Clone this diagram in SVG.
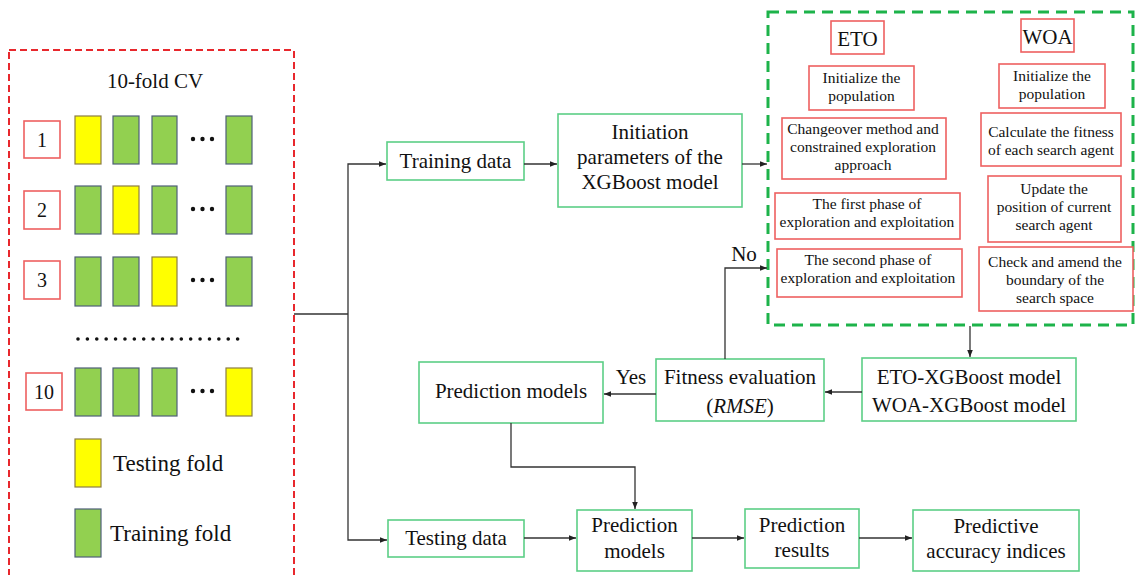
<svg xmlns="http://www.w3.org/2000/svg" width="1135" height="575" viewBox="0 0 1135 575" font-family="'Liberation Serif', 'DejaVu Serif', serif">
  <defs>
    <marker id="arr" viewBox="0 0 10 10" refX="10" refY="5" markerWidth="7" markerHeight="7" markerUnits="userSpaceOnUse" orient="auto">
      <path d="M0,1 L10,5 L0,9 z" fill="#222"/>
    </marker>
    <style>
      .t21 { font-size: 21px; text-anchor: middle; fill: #111; }
      .t15 { font-size: 15.5px; text-anchor: middle; fill: #111; }
      .lg { font-size: 23px; fill: #111; }
      .gbox { fill: #fff; stroke: #5ccf86; stroke-width: 1.6; }
      .rbox { fill: #fff; stroke: #ee6060; stroke-width: 1.6; }
      .yel { fill: #ffff00; stroke: #8c7d45; stroke-width: 1.2; }
      .grn { fill: #92d050; stroke: #4f5f78; stroke-width: 1.2; }
      .wire { fill: none; stroke: #333; stroke-width: 1.3; }
      .dot { fill: #111; }
    </style>
  </defs>
  <rect width="1135" height="575" fill="#fff"/>

  <!-- cross-validation panel -->
  <g id="cv-panel">
    <rect x="9" y="50" width="285" height="528" fill="none" stroke="#e8282d" stroke-width="2" stroke-dasharray="7 4"/>
    <text x="155" y="88" class="t21">10-fold CV</text>

    <rect x="24" y="121" width="36" height="37" class="rbox" stroke-width="1.3"/>
    <text x="42" y="147" class="t21" style="font-size:20px">1</text>
    <rect x="75" y="116" width="26" height="48" class="yel"/>
    <rect x="113" y="116" width="26" height="48" class="grn"/>
    <rect x="152" y="116" width="25" height="48" class="grn"/>
    <circle cx="193" cy="139" r="2.2" class="dot"/><circle cx="202.5" cy="139" r="2.2" class="dot"/><circle cx="212" cy="139" r="2.2" class="dot"/>
    <rect x="226" y="116" width="26" height="48" class="grn"/>

    <rect x="24" y="191" width="36" height="38" class="rbox" stroke-width="1.3"/>
    <text x="42" y="217" class="t21" style="font-size:20px">2</text>
    <rect x="75" y="186" width="26" height="48" class="grn" stroke="#8c7d45"/>
    <rect x="113" y="186" width="26" height="48" class="yel"/>
    <rect x="152" y="186" width="25" height="48" class="grn"/>
    <circle cx="193" cy="209" r="2.2" class="dot"/><circle cx="202.5" cy="209" r="2.2" class="dot"/><circle cx="212" cy="209" r="2.2" class="dot"/>
    <rect x="226" y="186" width="26" height="48" class="grn"/>

    <rect x="24" y="261" width="36" height="38" class="rbox" stroke-width="1.3"/>
    <text x="42" y="287" class="t21" style="font-size:20px">3</text>
    <rect x="75" y="257" width="26" height="49" class="grn" stroke="#8c7d45"/>
    <rect x="113" y="257" width="26" height="49" class="grn"/>
    <rect x="152" y="257" width="25" height="49" class="yel"/>
    <circle cx="193" cy="280" r="2.2" class="dot"/><circle cx="202.5" cy="280" r="2.2" class="dot"/><circle cx="212" cy="280" r="2.2" class="dot"/>
    <rect x="226" y="257" width="26" height="49" class="grn"/>

    <line x1="78" y1="339" x2="247" y2="339" stroke="#111" stroke-width="3.6" stroke-linecap="round" stroke-dasharray="0 9.39"/>

    <rect x="26" y="373" width="36" height="37" class="rbox" stroke-width="1.3"/>
    <text x="44" y="399" class="t21" style="font-size:20px">10</text>
    <rect x="75" y="368" width="26" height="48" class="grn" stroke="#8c7d45"/>
    <rect x="113" y="368" width="26" height="48" class="grn"/>
    <rect x="152" y="368" width="25" height="48" class="grn"/>
    <circle cx="193" cy="391" r="2.2" class="dot"/><circle cx="202.5" cy="391" r="2.2" class="dot"/><circle cx="212" cy="391" r="2.2" class="dot"/>
    <rect x="226" y="368" width="26" height="48" class="yel"/>

    <rect x="75" y="439" width="26" height="48" class="yel"/>
    <text x="113" y="471" class="lg">Testing fold</text>
    <rect x="75" y="509" width="26" height="48" class="grn" stroke="#8c7d45"/>
    <text x="110" y="541" class="lg">Training fold</text>
  </g>

  <!-- optimizer panel -->
  <g id="optimizer-panel">
    <rect x="768" y="12" width="365" height="313" fill="none" stroke="#1db34a" stroke-width="3" stroke-dasharray="11 7"/>
  </g>
  <g id="eto-title">
    <rect x="831" y="21" width="53" height="33" class="rbox"/>
    <text x="857.5" y="46" class="t21">ETO</text>
  </g>
  <g id="woa-title">
    <rect x="1021" y="19" width="53" height="33" class="rbox"/>
    <text x="1047.5" y="44" class="t21">WOA</text>
  </g>
  <g id="eto-init">
    <rect x="809" y="66" width="105" height="44" class="rbox"/>
    <text x="861.5" y="83" class="t15">Initialize the</text>
    <text x="861.5" y="101" class="t15">population</text>
  </g>
  <g id="eto-changeover">
    <rect x="782" y="118" width="164" height="61" class="rbox"/>
    <text x="863" y="134" class="t15">Changeover method and</text>
    <text x="863" y="152" class="t15">constrained exploration</text>
    <text x="863" y="170" class="t15">approach</text>
  </g>
  <g id="eto-phase1">
    <rect x="775" y="193" width="185" height="46" class="rbox"/>
    <text x="867" y="209" class="t15">The first phase of</text>
    <text x="867" y="227" class="t15">exploration and exploitation</text>
  </g>
  <g id="eto-phase2">
    <rect x="777" y="249" width="185" height="48" class="rbox"/>
    <text x="868" y="265" class="t15">The second phase of</text>
    <text x="868" y="283" class="t15">exploration and exploitation</text>
  </g>
  <g id="woa-init">
    <rect x="999" y="64" width="106" height="44" class="rbox"/>
    <text x="1052" y="81" class="t15">Initialize the</text>
    <text x="1052" y="99" class="t15">population</text>
  </g>
  <g id="woa-fitness">
    <rect x="981" y="113" width="140" height="53" class="rbox"/>
    <text x="1051" y="137" class="t15">Calculate the fitness</text>
    <text x="1051" y="155" class="t15">of each search agent</text>
  </g>
  <g id="woa-update">
    <rect x="988" y="176" width="133" height="66" class="rbox"/>
    <text x="1054" y="194" class="t15">Update the</text>
    <text x="1054" y="212" class="t15">position of current</text>
    <text x="1054" y="230" class="t15">search agent</text>
  </g>
  <g id="woa-boundary">
    <rect x="979" y="247" width="154" height="64" class="rbox"/>
    <text x="1055" y="267" class="t15">Check and amend the</text>
    <text x="1055" y="285" class="t15">boundary of the</text>
    <text x="1055" y="303" class="t15">search space</text>
  </g>

  <!-- flow nodes -->
  <g id="training-data">
    <rect x="387" y="142" width="137" height="38" class="gbox"/>
    <text x="455.5" y="168" class="t21">Training data</text>
  </g>
  <g id="init-params">
    <rect x="558" y="114" width="184" height="93" class="gbox"/>
    <text x="650" y="139" class="t21">Initiation</text>
    <text x="650" y="164" class="t21">parameters of the</text>
    <text x="650" y="189" class="t21">XGBoost model</text>
  </g>
  <g id="hybrid-models">
    <rect x="862" y="358" width="214" height="63" class="gbox"/>
    <text x="969" y="384" class="t21">ETO-XGBoost model</text>
    <text x="969" y="412" class="t21">WOA-XGBoost model</text>
  </g>
  <g id="fitness-eval">
    <rect x="656" y="359" width="168" height="62" class="gbox"/>
    <text x="740" y="384" class="t21">Fitness evaluation</text>
    <text x="740" y="413" class="t21">(<tspan font-style="italic">RMSE</tspan>)</text>
  </g>
  <g id="prediction-models-top">
    <rect x="419" y="362" width="184" height="61" class="gbox"/>
    <text x="511" y="398" class="t21">Prediction models</text>
  </g>
  <g id="testing-data">
    <rect x="388" y="520" width="136" height="37" class="gbox"/>
    <text x="456" y="545" class="t21">Testing data</text>
  </g>
  <g id="prediction-models">
    <rect x="577" y="510" width="115" height="61" class="gbox"/>
    <text x="634.5" y="532" class="t21">Prediction</text>
    <text x="634.5" y="558" class="t21">models</text>
  </g>
  <g id="prediction-results">
    <rect x="745" y="509" width="114" height="59" class="gbox"/>
    <text x="802" y="532" class="t21">Prediction</text>
    <text x="802" y="557" class="t21">results</text>
  </g>
  <g id="accuracy-indices">
    <rect x="913" y="510" width="166" height="61" class="gbox"/>
    <text x="996" y="533" class="t21">Predictive</text>
    <text x="996" y="558" class="t21">accuracy indices</text>
  </g>

  <!-- connectors -->
  <g id="connectors">
    <polyline points="294,314 348,314" class="wire"/>
    <polyline points="348,314 348,164 386,164" class="wire" marker-end="url(#arr)"/>
    <polyline points="348,314 348,540 387,540" class="wire" marker-end="url(#arr)"/>
    <line x1="524" y1="164" x2="557" y2="164" class="wire" marker-end="url(#arr)"/>
    <line x1="742" y1="164" x2="767" y2="164" class="wire" marker-end="url(#arr)"/>
    <polyline points="725,359 725,268 767,268" class="wire" marker-end="url(#arr)"/>
    <text x="744" y="261" class="t21">No</text>
    <line x1="970" y1="326" x2="970" y2="357" class="wire" marker-end="url(#arr)"/>
    <line x1="862" y1="392" x2="825" y2="392" class="wire" marker-end="url(#arr)"/>
    <line x1="656" y1="394" x2="604" y2="394" class="wire" marker-end="url(#arr)"/>
    <text x="631" y="384" class="t21">Yes</text>
    <polyline points="511,423 511,467 635,467 635,509" class="wire" marker-end="url(#arr)"/>
    <line x1="524" y1="538" x2="576" y2="538" class="wire" marker-end="url(#arr)"/>
    <line x1="692" y1="538" x2="744" y2="538" class="wire" marker-end="url(#arr)"/>
    <line x1="859" y1="538" x2="912" y2="538" class="wire" marker-end="url(#arr)"/>
  </g>
</svg>
